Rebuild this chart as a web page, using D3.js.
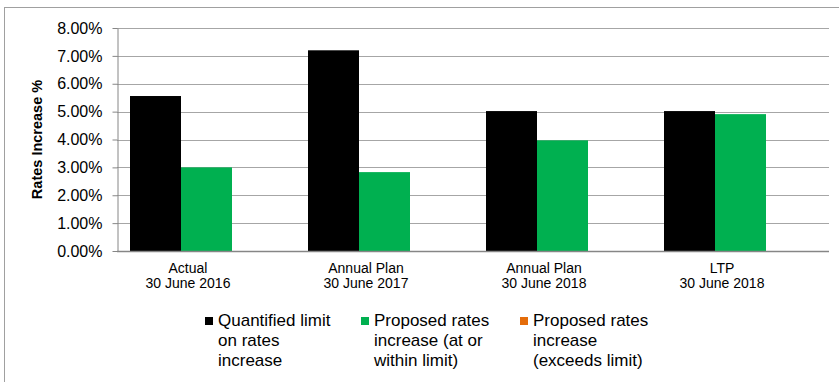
<!DOCTYPE html>
<html>
<head>
<meta charset="utf-8">
<script src="https://cdn.jsdelivr.net/npm/d3@7"></script>
<style>
html,body{margin:0;padding:0;background:#fff;}
svg{display:block;font-family:"Liberation Sans",Arial,sans-serif;}
</style>
</head>
<body>
<svg id="chart" width="839" height="382"></svg>
<script>
const categories = [["Actual","30 June 2016"],["Annual Plan","30 June 2017"],["Annual Plan","30 June 2018"],["LTP","30 June 2018"]];
const seriesNames = [["Quantified limit","on rates","increase"],["Proposed rates","increase (at or","within limit)"],["Proposed rates","increase","(exceeds limit)"]];
const seriesColors = ["#000000","#00B050","#E46C0A"];
const limitValues = [5.56, 7.20, 5.02, 5.02];
const withinValues = [3.00, 2.83, 3.97, 4.91];
const exceedsValues = [0, 0, 0, 0];
const yTicks = [0,1,2,3,4,5,6,7,8];
const yTitle = "Rates Increase %";

const series = [limitValues, withinValues, exceedsValues];
const svg = d3.select("#chart");
const m = {left:117, right:829, top:28, bottom:251};

// outer border
svg.append("rect").attr("x",4.5).attr("y",7.5).attr("width",840).attr("height",380)
  .attr("fill","none").attr("stroke","#a0a0a0").attr("stroke-width",1);

const x0 = d3.scaleBand().domain(d3.range(categories.length)).range([m.left,m.right]).paddingInner(0).paddingOuter(0);
const x1 = d3.scaleBand().domain(d3.range(series.length)).range([13, x0.bandwidth()-12]).padding(0);
const y = d3.scaleLinear().domain([0,8]).range([m.bottom,m.top]);

// gridlines
svg.append("g").selectAll("line").data(yTicks.filter(d=>d>0)).join("line")
  .attr("x1",m.left).attr("x2",m.right)
  .attr("y1",d=>Math.round(y(d))+0.5).attr("y2",d=>Math.round(y(d))+0.5)
  .attr("stroke","#a6a6a6").attr("stroke-width",1);

// bars
const g = svg.append("g");
series.forEach((vals,si)=>{
  g.append("g").selectAll("rect").data(vals).join("rect")
    .attr("x",(d,i)=>x0(i)+x1(si))
    .attr("width",x1.bandwidth())
    .attr("y",d=>y(d))
    .attr("height",d=>y(0)-y(d))
    .attr("fill",seriesColors[si]);
});

// y axis
const yAxis = d3.axisLeft(y).tickValues(yTicks).tickFormat(d=>d.toFixed(2)+"%").tickSizeInner(5).tickSizeOuter(0).tickPadding(10);
const ya = svg.append("g").attr("transform",`translate(${m.left+0.5},0)`).call(yAxis);
ya.select(".domain").attr("stroke","#868686");
ya.selectAll(".tick line").attr("stroke","#868686");
ya.selectAll(".tick text").attr("font-size","16px").attr("fill","#000").attr("font-family","Liberation Sans, Arial, sans-serif");

// x axis line
svg.append("line").attr("x1",m.left).attr("x2",m.right).attr("y1",m.bottom+0.5).attr("y2",m.bottom+0.5)
  .attr("stroke","#868686").attr("stroke-width",1.5);

// category labels
const cl = svg.append("g");
categories.forEach((c,i)=>{
  const cx = x0(i)+x0.bandwidth()/2-18;
  const t = cl.append("text").attr("text-anchor","middle").attr("font-size","14px").attr("fill","#000");
  c.forEach((line,li)=>{
    t.append("tspan").attr("x",cx).attr("y",273+li*15).text(line);
  });
});

// y title
svg.append("text").attr("transform",`translate(42,${(m.top+m.bottom)/2}) rotate(-90)`)
  .attr("text-anchor","middle").attr("font-size","14.5px").attr("font-weight","bold").text(yTitle);

// legend
const legX = [205, 361, 520];
const lg = svg.append("g");
seriesNames.forEach((lines,i)=>{
  lg.append("rect").attr("x",legX[i]).attr("y",317).attr("width",8).attr("height",8).attr("fill",seriesColors[i]);
  const t = lg.append("text").attr("font-size","17px").attr("fill","#000");
  lines.forEach((line,li)=>{
    t.append("tspan").attr("x",legX[i]+13).attr("y",326+li*20).text(line);
  });
});
</script>
</body>
</html>
